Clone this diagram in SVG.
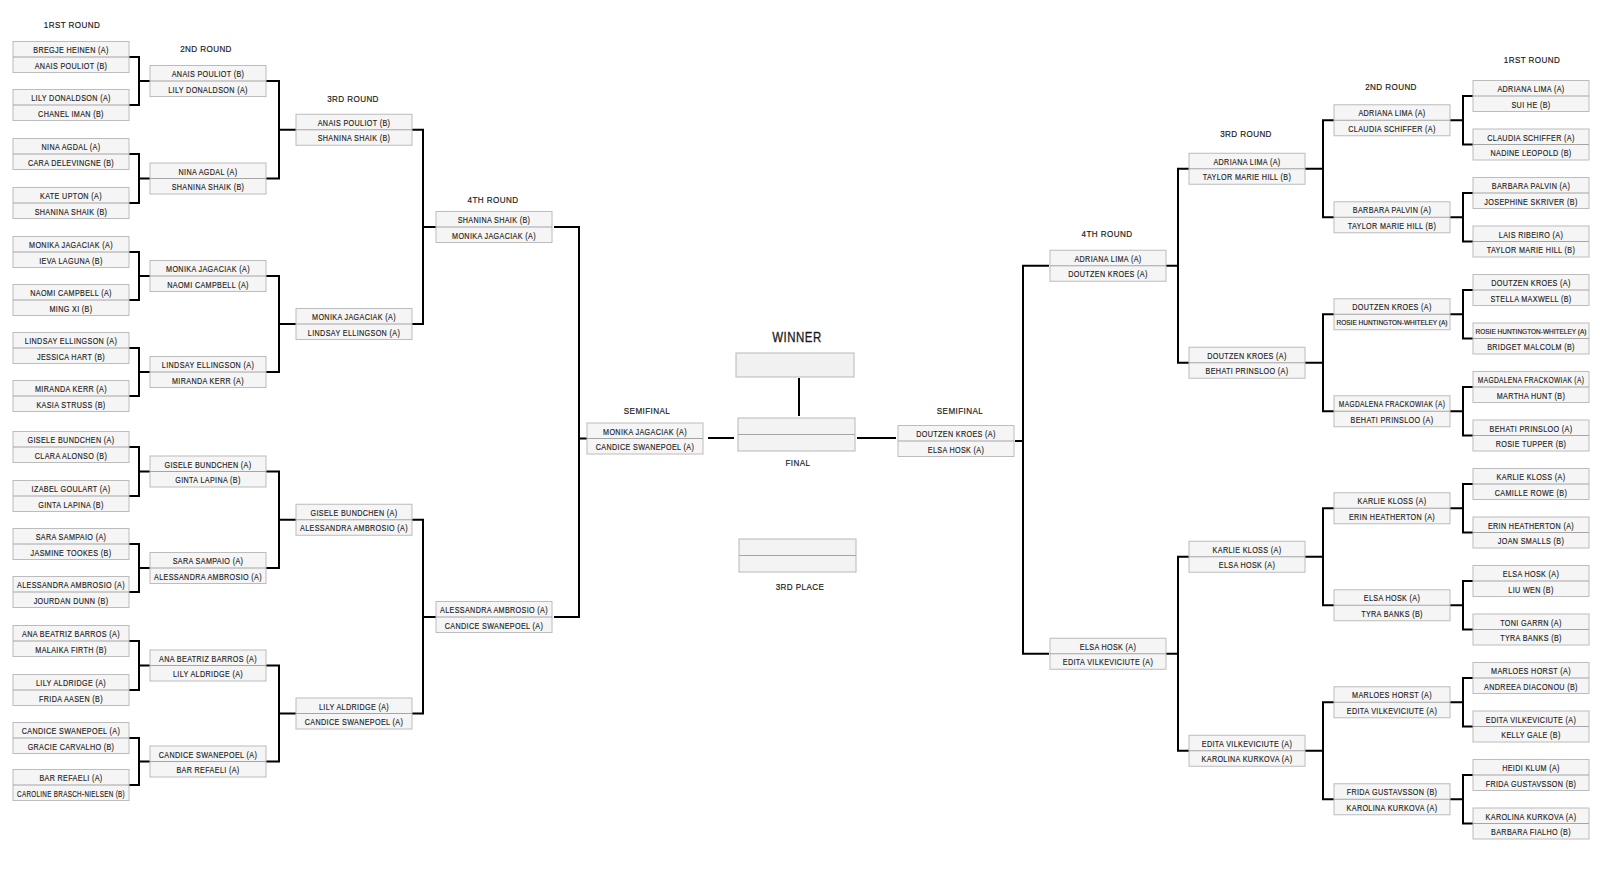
<svg xmlns="http://www.w3.org/2000/svg" width="1600" height="890" viewBox="0 0 1600 890">
<style>
.t{font-family:'Liberation Sans',Arial,sans-serif;font-size:9px;text-anchor:middle;fill:#1c1c1c;stroke:#1c1c1c;stroke-width:0.15px;letter-spacing:0.45px}
.a{transform:matrix(0.8,0,0,1,58,-3.8)}
.b{transform:matrix(0.8,0,0,1,58,11.5)}
.s{font-family:'Liberation Sans',Arial,sans-serif;font-size:6.5px;text-anchor:middle;fill:#1c1c1c;stroke:#1c1c1c;stroke-width:0.15px}
.h{font-family:'Liberation Sans',Arial,sans-serif;font-size:9.5px;text-anchor:middle;fill:#1a1a1a;stroke:#1a1a1a;stroke-width:0.2px;letter-spacing:0.5px}
.w{font-size:14px;letter-spacing:0.6px;stroke-width:0.3px}
.c{fill:none;stroke:#000;stroke-width:2}
</style>
<defs>
<g id="bx"><rect x="0" y="-15.5" width="116" height="31" fill="#f5f5f5" stroke="#bcbcbc" stroke-width="1"/><line x1="0" y1="0" x2="116" y2="0" stroke="#a5a5a5" stroke-width="1"/></g>
</defs>
<rect width="1600" height="890" fill="#fff"/>

<g id="headers">
<text class="h" transform="matrix(.85 0 0 1 72 28)">1RST ROUND</text>
<text class="h" transform="matrix(.85 0 0 1 206 52)">2ND ROUND</text>
<text class="h" transform="matrix(.85 0 0 1 353 102)">3RD ROUND</text>
<text class="h" transform="matrix(.85 0 0 1 493 203)">4TH ROUND</text>
<text class="h" transform="matrix(.85 0 0 1 647 414)">SEMIFINAL</text>
<text class="h w" transform="matrix(.82 0 0 1 797 342)">WINNER</text>
<text class="h" transform="matrix(.85 0 0 1 798 466)">FINAL</text>
<text class="h" transform="matrix(.85 0 0 1 800 590)">3RD PLACE</text>
<text class="h" transform="matrix(.85 0 0 1 960 414)">SEMIFINAL</text>
<text class="h" transform="matrix(.85 0 0 1 1107 237)">4TH ROUND</text>
<text class="h" transform="matrix(.85 0 0 1 1246 137)">3RD ROUND</text>
<text class="h" transform="matrix(.85 0 0 1 1391 90)">2ND ROUND</text>
<text class="h" transform="matrix(.85 0 0 1 1532 63)">1RST ROUND</text>
</g>

<g id="connectors" class="c">
<path d="M129 57H139V105H129M139 81H150"/>
<path d="M129 154H139V203H129M139 178.5H150"/>
<path d="M129 252H139V300H129M139 276H150"/>
<path d="M129 348H139V396H129M139 372H150"/>
<path d="M129 447H139V496H129M139 471.5H150"/>
<path d="M129 544H139V592H129M139 568H150"/>
<path d="M129 641H139V690H129M139 665.5H150"/>
<path d="M129 738H139V785H129M139 761.5H150"/>
<path d="M266 81H279V178.5H266M279 129.75H296"/>
<path d="M266 276H279V372H266M279 324H296"/>
<path d="M266 471.5H279V568H266M279 519.75H296"/>
<path d="M266 665.5H279V761.5H266M279 713.5H296"/>
<path d="M412 129.75H423V324H412M423 227H436"/>
<path d="M412 519.75H423V713.5H412M423 617H436"/>
<path d="M554 227H579V617H554M579 438.5H587"/>
<path d="M708 438H734"/>
<path d="M857 438H896"/>
<path d="M799 378V416"/>
<path d="M1049 265.75H1023V653.75H1049M1023 441H1015"/>
<path d="M1189 168.75H1178V362.75H1189M1178 265.75H1166"/>
<path d="M1189 556.75H1178V750.75H1189M1178 653.75H1166"/>
<path d="M1334 120.25H1323V217.25H1334M1323 168.75H1305"/>
<path d="M1334 314.25H1323V411.25H1334M1323 362.75H1305"/>
<path d="M1334 508.25H1323V605.25H1334M1323 556.75H1305"/>
<path d="M1334 702.25H1323V799.25H1334M1323 750.75H1305"/>
<path d="M1473 96H1463V144.5H1473M1463 120.25H1450"/>
<path d="M1473 193H1463V241.5H1473M1463 217.25H1450"/>
<path d="M1473 290H1463V338.5H1473M1463 314.25H1450"/>
<path d="M1473 387H1463V435.5H1473M1463 411.25H1450"/>
<path d="M1473 484H1463V532.5H1473M1463 508.25H1450"/>
<path d="M1473 581H1463V629.5H1473M1463 605.25H1450"/>
<path d="M1473 678H1463V726.5H1473M1463 702.25H1450"/>
<path d="M1473 775H1463V823.5H1473M1463 799.25H1450"/>
</g>

<g id="winner"><rect x="736" y="353" width="118" height="24" fill="#f1f1f1" stroke="#b8b8b8"/></g>
<g id="final"><rect x="738" y="418" width="117" height="33" fill="#f3f3f3" stroke="#b8b8b8"/><line x1="738" y1="434.5" x2="855" y2="434.5" stroke="#a5a5a5"/></g>
<g id="third-place"><rect x="739" y="539" width="117" height="33" fill="#f3f3f3" stroke="#b8b8b8"/><line x1="739" y1="555.5" x2="856" y2="555.5" stroke="#a5a5a5"/></g>

<g id="L1-1" transform="translate(13,57)"><use href="#bx"/><text class="t a">BREGJE HEINEN (A)</text><text class="t b">ANAIS POULIOT (B)</text></g>
<g id="L1-2" transform="translate(13,105)"><use href="#bx"/><text class="t a">LILY DONALDSON (A)</text><text class="t b">CHANEL IMAN (B)</text></g>
<g id="L1-3" transform="translate(13,154)"><use href="#bx"/><text class="t a">NINA AGDAL (A)</text><text class="t b">CARA DELEVINGNE (B)</text></g>
<g id="L1-4" transform="translate(13,203)"><use href="#bx"/><text class="t a">KATE UPTON (A)</text><text class="t b">SHANINA SHAIK (B)</text></g>
<g id="L1-5" transform="translate(13,252)"><use href="#bx"/><text class="t a">MONIKA JAGACIAK (A)</text><text class="t b">IEVA LAGUNA (B)</text></g>
<g id="L1-6" transform="translate(13,300)"><use href="#bx"/><text class="t a">NAOMI CAMPBELL (A)</text><text class="t b">MING XI (B)</text></g>
<g id="L1-7" transform="translate(13,348)"><use href="#bx"/><text class="t a">LINDSAY ELLINGSON (A)</text><text class="t b">JESSICA HART (B)</text></g>
<g id="L1-8" transform="translate(13,396)"><use href="#bx"/><text class="t a">MIRANDA KERR (A)</text><text class="t b">KASIA STRUSS (B)</text></g>
<g id="L1-9" transform="translate(13,447)"><use href="#bx"/><text class="t a">GISELE BUNDCHEN (A)</text><text class="t b">CLARA ALONSO (B)</text></g>
<g id="L1-10" transform="translate(13,496)"><use href="#bx"/><text class="t a">IZABEL GOULART (A)</text><text class="t b">GINTA LAPINA (B)</text></g>
<g id="L1-11" transform="translate(13,544)"><use href="#bx"/><text class="t a">SARA SAMPAIO (A)</text><text class="t b">JASMINE TOOKES (B)</text></g>
<g id="L1-12" transform="translate(13,592)"><use href="#bx"/><text class="t a">ALESSANDRA AMBROSIO (A)</text><text class="t b">JOURDAN DUNN (B)</text></g>
<g id="L1-13" transform="translate(13,641)"><use href="#bx"/><text class="t a">ANA BEATRIZ BARROS (A)</text><text class="t b">MALAIKA FIRTH (B)</text></g>
<g id="L1-14" transform="translate(13,690)"><use href="#bx"/><text class="t a">LILY ALDRIDGE (A)</text><text class="t b">FRIDA AASEN (B)</text></g>
<g id="L1-15" transform="translate(13,738)"><use href="#bx"/><text class="t a">CANDICE SWANEPOEL (A)</text><text class="t b">GRACIE CARVALHO (B)</text></g>
<g id="L1-16" transform="translate(13,785)"><use href="#bx"/><text class="t a">BAR REFAELI (A)</text><text class="t b" textLength="135" lengthAdjust="spacingAndGlyphs">CAROLINE BRASCH-NIELSEN (B)</text></g>

<g id="L2-1" transform="translate(150,81)"><use href="#bx"/><text class="t a">ANAIS POULIOT (B)</text><text class="t b">LILY DONALDSON (A)</text></g>
<g id="L2-2" transform="translate(150,178.5)"><use href="#bx"/><text class="t a">NINA AGDAL (A)</text><text class="t b">SHANINA SHAIK (B)</text></g>
<g id="L2-3" transform="translate(150,276)"><use href="#bx"/><text class="t a">MONIKA JAGACIAK (A)</text><text class="t b">NAOMI CAMPBELL (A)</text></g>
<g id="L2-4" transform="translate(150,372)"><use href="#bx"/><text class="t a">LINDSAY ELLINGSON (A)</text><text class="t b">MIRANDA KERR (A)</text></g>
<g id="L2-5" transform="translate(150,471.5)"><use href="#bx"/><text class="t a">GISELE BUNDCHEN (A)</text><text class="t b">GINTA LAPINA (B)</text></g>
<g id="L2-6" transform="translate(150,568)"><use href="#bx"/><text class="t a">SARA SAMPAIO (A)</text><text class="t b">ALESSANDRA AMBROSIO (A)</text></g>
<g id="L2-7" transform="translate(150,665.5)"><use href="#bx"/><text class="t a">ANA BEATRIZ BARROS (A)</text><text class="t b">LILY ALDRIDGE (A)</text></g>
<g id="L2-8" transform="translate(150,761.5)"><use href="#bx"/><text class="t a">CANDICE SWANEPOEL (A)</text><text class="t b">BAR REFAELI (A)</text></g>

<g id="L3-1" transform="translate(296,129.75)"><use href="#bx"/><text class="t a">ANAIS POULIOT (B)</text><text class="t b">SHANINA SHAIK (B)</text></g>
<g id="L3-2" transform="translate(296,324)"><use href="#bx"/><text class="t a">MONIKA JAGACIAK (A)</text><text class="t b">LINDSAY ELLINGSON (A)</text></g>
<g id="L3-3" transform="translate(296,519.75)"><use href="#bx"/><text class="t a">GISELE BUNDCHEN (A)</text><text class="t b">ALESSANDRA AMBROSIO (A)</text></g>
<g id="L3-4" transform="translate(296,713.5)"><use href="#bx"/><text class="t a">LILY ALDRIDGE (A)</text><text class="t b">CANDICE SWANEPOEL (A)</text></g>

<g id="L4-1" transform="translate(436,227)"><use href="#bx"/><text class="t a">SHANINA SHAIK (B)</text><text class="t b">MONIKA JAGACIAK (A)</text></g>
<g id="L4-2" transform="translate(436,617)"><use href="#bx"/><text class="t a">ALESSANDRA AMBROSIO (A)</text><text class="t b">CANDICE SWANEPOEL (A)</text></g>

<g id="SF-L" transform="translate(587,438.5)"><use href="#bx"/><text class="t a">MONIKA JAGACIAK (A)</text><text class="t b">CANDICE SWANEPOEL (A)</text></g>
<g id="SF-R" transform="translate(898,441)"><use href="#bx"/><text class="t a">DOUTZEN KROES (A)</text><text class="t b">ELSA HOSK (A)</text></g>

<g id="R4-1" transform="translate(1050,265.75)"><use href="#bx"/><text class="t a">ADRIANA LIMA (A)</text><text class="t b">DOUTZEN KROES (A)</text></g>
<g id="R4-2" transform="translate(1050,653.75)"><use href="#bx"/><text class="t a">ELSA HOSK (A)</text><text class="t b">EDITA VILKEVICIUTE (A)</text></g>

<g id="R3-1" transform="translate(1189,168.75)"><use href="#bx"/><text class="t a">ADRIANA LIMA (A)</text><text class="t b">TAYLOR MARIE HILL (B)</text></g>
<g id="R3-2" transform="translate(1189,362.75)"><use href="#bx"/><text class="t a">DOUTZEN KROES (A)</text><text class="t b">BEHATI PRINSLOO (A)</text></g>
<g id="R3-3" transform="translate(1189,556.75)"><use href="#bx"/><text class="t a">KARLIE KLOSS (A)</text><text class="t b">ELSA HOSK (A)</text></g>
<g id="R3-4" transform="translate(1189,750.75)"><use href="#bx"/><text class="t a">EDITA VILKEVICIUTE (A)</text><text class="t b">KAROLINA KURKOVA (A)</text></g>

<g id="R2-1" transform="translate(1334,120.25)"><use href="#bx"/><text class="t a">ADRIANA LIMA (A)</text><text class="t b">CLAUDIA SCHIFFER (A)</text></g>
<g id="R2-2" transform="translate(1334,217.25)"><use href="#bx"/><text class="t a">BARBARA PALVIN (A)</text><text class="t b">TAYLOR MARIE HILL (B)</text></g>
<g id="R2-3" transform="translate(1334,314.25)"><use href="#bx"/><text class="t a">DOUTZEN KROES (A)</text><text class="s" x="58" y="10.7">ROSIE HUNTINGTON-WHITELEY (A)</text></g>
<g id="R2-4" transform="translate(1334,411.25)"><use href="#bx"/><text class="t a" textLength="133" lengthAdjust="spacingAndGlyphs">MAGDALENA FRACKOWIAK (A)</text><text class="t b">BEHATI PRINSLOO (A)</text></g>
<g id="R2-5" transform="translate(1334,508.25)"><use href="#bx"/><text class="t a">KARLIE KLOSS (A)</text><text class="t b">ERIN HEATHERTON (A)</text></g>
<g id="R2-6" transform="translate(1334,605.25)"><use href="#bx"/><text class="t a">ELSA HOSK (A)</text><text class="t b">TYRA BANKS (B)</text></g>
<g id="R2-7" transform="translate(1334,702.25)"><use href="#bx"/><text class="t a">MARLOES HORST (A)</text><text class="t b">EDITA VILKEVICIUTE (A)</text></g>
<g id="R2-8" transform="translate(1334,799.25)"><use href="#bx"/><text class="t a">FRIDA GUSTAVSSON (B)</text><text class="t b">KAROLINA KURKOVA (A)</text></g>

<g id="R1-1" transform="translate(1473,96)"><use href="#bx"/><text class="t a">ADRIANA LIMA (A)</text><text class="t b">SUI HE (B)</text></g>
<g id="R1-2" transform="translate(1473,144.5)"><use href="#bx"/><text class="t a">CLAUDIA SCHIFFER (A)</text><text class="t b">NADINE LEOPOLD (B)</text></g>
<g id="R1-3" transform="translate(1473,193)"><use href="#bx"/><text class="t a">BARBARA PALVIN (A)</text><text class="t b">JOSEPHINE SKRIVER (B)</text></g>
<g id="R1-4" transform="translate(1473,241.5)"><use href="#bx"/><text class="t a">LAIS RIBEIRO (A)</text><text class="t b">TAYLOR MARIE HILL (B)</text></g>
<g id="R1-5" transform="translate(1473,290)"><use href="#bx"/><text class="t a">DOUTZEN KROES (A)</text><text class="t b">STELLA MAXWELL (B)</text></g>
<g id="R1-6" transform="translate(1473,338.5)"><use href="#bx"/><text class="s" x="58" y="-4.6">ROSIE HUNTINGTON-WHITELEY (A)</text><text class="t b">BRIDGET MALCOLM (B)</text></g>
<g id="R1-7" transform="translate(1473,387)"><use href="#bx"/><text class="t a" textLength="133" lengthAdjust="spacingAndGlyphs">MAGDALENA FRACKOWIAK (A)</text><text class="t b">MARTHA HUNT (B)</text></g>
<g id="R1-8" transform="translate(1473,435.5)"><use href="#bx"/><text class="t a">BEHATI PRINSLOO (A)</text><text class="t b">ROSIE TUPPER (B)</text></g>
<g id="R1-9" transform="translate(1473,484)"><use href="#bx"/><text class="t a">KARLIE KLOSS (A)</text><text class="t b">CAMILLE ROWE (B)</text></g>
<g id="R1-10" transform="translate(1473,532.5)"><use href="#bx"/><text class="t a">ERIN HEATHERTON (A)</text><text class="t b">JOAN SMALLS (B)</text></g>
<g id="R1-11" transform="translate(1473,581)"><use href="#bx"/><text class="t a">ELSA HOSK (A)</text><text class="t b">LIU WEN (B)</text></g>
<g id="R1-12" transform="translate(1473,629.5)"><use href="#bx"/><text class="t a">TONI GARRN (A)</text><text class="t b">TYRA BANKS (B)</text></g>
<g id="R1-13" transform="translate(1473,678)"><use href="#bx"/><text class="t a">MARLOES HORST (A)</text><text class="t b">ANDREEA DIACONOU (B)</text></g>
<g id="R1-14" transform="translate(1473,726.5)"><use href="#bx"/><text class="t a">EDITA VILKEVICIUTE (A)</text><text class="t b">KELLY GALE (B)</text></g>
<g id="R1-15" transform="translate(1473,775)"><use href="#bx"/><text class="t a">HEIDI KLUM (A)</text><text class="t b">FRIDA GUSTAVSSON (B)</text></g>
<g id="R1-16" transform="translate(1473,823.5)"><use href="#bx"/><text class="t a">KAROLINA KURKOVA (A)</text><text class="t b">BARBARA FIALHO (B)</text></g>
</svg>
